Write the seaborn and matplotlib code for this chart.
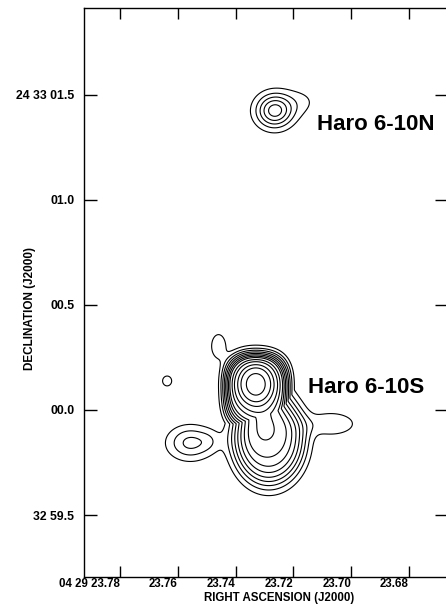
"""Haro 6-10 radio continuum contour map (RA / Dec J2000)."""
import matplotlib
matplotlib.use("Agg")
import matplotlib.pyplot as plt
import numpy as np
import seaborn as sns

sns.set_style("ticks")
plt.rcParams["font.family"] = ["Liberation Sans", "DejaVu Sans"]
plt.rcParams["text.color"] = "black"
plt.rcParams["axes.edgecolor"] = "black"
plt.rcParams["xtick.color"] = "black"
plt.rcParams["ytick.color"] = "black"
plt.rcParams["axes.labelcolor"] = "black"

# --- emission components
# RA in seconds of 04h29m, Dec as arcsec offset from +24 33 00.0
# components sharing a group are merged with max (one plateau), groups are summed
comp_group = ["body", "body", "peak", "tail", "sw", "bridge", "arm", "east",
              "w", "n", "n_ext"]
comp_ra = [23.7327, 23.7285, 23.7330, 23.7296, 23.7557, 23.7487, 23.7459,
           23.7070, 23.7637, 23.7265, 23.7169]
comp_dec = [0.090, -0.138, 0.123, -0.100, -0.157, -0.147, 0.304,
            -0.066, 0.138, 1.424, 1.467]
comp_amp = [7.6, 7.6, 13.0, 2.2, 3.3, 0.8, 1.9, 1.9, 1.5, 5.5, 1.0]
comp_sig_ra = [0.01009, 0.01078, 0.00487, 0.00487, 0.00556, 0.00278, 0.00209,
               0.00660, 0.00174, 0.00452, 0.00487]
comp_sig_dec = [0.161, 0.190, 0.076, 0.076, 0.057, 0.038, 0.048,
                0.043, 0.026, 0.057, 0.052]
comp_steep = [3, 2, 1, 1, 1, 1, 1, 1, 1, 1, 1]   # radial profile exponent
comp_box = [3, 2, 2, 2, 2, 2, 2, 2, 2, 2, 2]     # superellipse index

levels = [1, 2, 3, 4, 5, 6, 7, 8, 9.5, 11, 13, 15, 18]

ra_ticks = [23.78, 23.76, 23.74, 23.72, 23.70, 23.68]
ra_labels = ["04 29 23.78", "23.76", "23.74", "23.72", "23.70", "23.68"]
dec_ticks = [1.5, 1.0, 0.5, 0.0, -0.5]
dec_labels = ["24 33 01.5", "01.0", "00.5", "00.0", "32 59.5"]

source_names = ["Haro 6-10N", "Haro 6-10S"]
name_ra = [23.7118, 23.7150]
name_dec = [1.358, 0.109]

# model image on a grid
ra = np.linspace(23.80, 23.66, 700)
dec = np.linspace(-0.9, 1.95, 900)
RA, DEC = np.meshgrid(ra, dec)
groups = {}
for g, x0, y0, a, sx, sy, p, n in zip(comp_group, comp_ra, comp_dec, comp_amp,
                                      comp_sig_ra, comp_sig_dec, comp_steep, comp_box):
    q = (np.abs((RA - x0) / sx) ** n + np.abs((DEC - y0) / sy) ** n) ** (2 / n)
    f = a * np.exp(-0.5 * q ** p)
    groups[g] = np.maximum(groups[g], f) if g in groups else f
img = sum(groups.values())

fig = plt.figure(figsize=(4.46, 6.06), dpi=100)
ax = fig.add_axes([84 / 446, 29 / 606, 364 / 446, 569 / 606])

ax.contour(RA, DEC, img, levels=levels, colors="black", linewidths=0.8)

ax.set_xlim(23.7925, 23.6664)
ax.set_ylim(-0.795, 1.913)

ax.set_xticks(ra_ticks)
ax.set_xticklabels(ra_labels, fontsize=8.3, fontweight="bold", ha="right")
ax.set_yticks(dec_ticks)
ax.set_yticklabels(dec_labels, fontsize=8.8, fontweight="bold")

ax.tick_params(axis="x", direction="in", length=8, width=1.0,
               top=True, pad=1)
ax.tick_params(axis="y", direction="in", length=9.5, width=1.0,
               right=True, pad=7)
for s in ax.spines.values():
    s.set_linewidth(1.0)

ax.set_xlabel("RIGHT ASCENSION (J2000)", fontsize=8.3, fontweight="bold")
ax.xaxis.set_label_coords((279 - 84) / 364, -15 / 569)
ax.set_ylabel("DECLINATION (J2000)", fontsize=8.5, fontweight="bold")
ax.yaxis.set_label_coords((36 - 84) / 364, (577 - 308) / 569)

for name, x, y in zip(source_names, name_ra, name_dec):
    ax.text(x, y, name, fontsize=16, fontweight="bold", ha="left", va="center")

fig.savefig("out.png", dpi=100)
